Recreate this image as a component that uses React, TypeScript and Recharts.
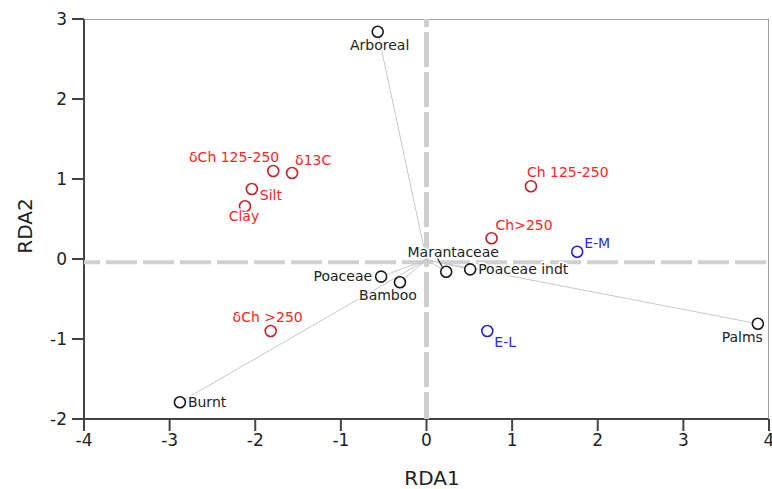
import { ScatterChart, Scatter, XAxis, YAxis } from 'recharts'

// RDA biplot: taxa (black), environmental variables (red), samples (blue)
const TAXA = ['Arboreal', 'Marantaceae', 'Poaceae indt', 'Poaceae', 'Bamboo', 'Palms', 'Burnt']
const TAXA_X = [-0.57, 0.23, 0.51, -0.53, -0.31, 3.87, -2.88]
const TAXA_Y = [2.84, -0.16, -0.13, -0.22, -0.29, -0.81, -1.79]

const ENV = ['δCh 125-250', 'δ13C', 'Silt', 'Clay', 'δCh >250', 'Ch 125-250', 'Ch>250']
const ENV_X = [-1.79, -1.57, -2.04, -2.12, -1.82, 1.22, 0.76]
const ENV_Y = [1.1, 1.075, 0.875, 0.66, -0.9, 0.91, 0.26]

const SAMPLES = ['E-M', 'E-L']
const SAMPLES_X = [1.76, 0.71]
const SAMPLES_Y = [0.09, -0.9]

const X_TICKS = [-4, -3, -2, -1, 0, 1, 2, 3, 4]
const Y_TICKS = [-2, -1, 0, 1, 2, 3]

const ORIGIN = { x: 0, y: -0.01 }
const ZERO_LINE_Y = -0.04

// label placement, px relative to the marker
const LABEL_POS: Record<string, { dx: number; dy: number; anchor: 'start' | 'middle' | 'end'; leader?: boolean }> = {
  Arboreal: { dx: 2, dy: 18, anchor: 'middle' },
  Marantaceae: { dx: 7, dy: -15, anchor: 'middle', leader: true },
  'Poaceae indt': { dx: 8, dy: 5, anchor: 'start' },
  Poaceae: { dx: -9, dy: 4, anchor: 'end' },
  Bamboo: { dx: -12, dy: 18, anchor: 'middle' },
  Palms: { dx: 5, dy: 18, anchor: 'end' },
  Burnt: { dx: 8, dy: 5, anchor: 'start' },
  'δCh 125-250': { dx: 6, dy: -9, anchor: 'end' },
  'δ13C': { dx: 3, dy: -8, anchor: 'start' },
  Silt: { dx: 8, dy: 11, anchor: 'start' },
  Clay: { dx: -1, dy: 15, anchor: 'middle' },
  'δCh >250': { dx: -3, dy: -9, anchor: 'middle' },
  'Ch 125-250': { dx: -4, dy: -9, anchor: 'start' },
  'Ch>250': { dx: 4, dy: -8, anchor: 'start' },
  'E-M': { dx: 7, dy: -4, anchor: 'start' },
  'E-L': { dx: 7, dy: 16, anchor: 'start' },
}

const FONT = '"DejaVu Sans", Verdana, sans-serif'
const AXIS_COLOR = '#444'

const toPoints = (names: string[], xs: number[], ys: number[]) =>
  names.map((name, i) => ({ name, x: xs[i], y: ys[i] }))

const taxa = toPoints(TAXA, TAXA_X, TAXA_Y)
const env = toPoints(ENV, ENV_X, ENV_Y)
const samples = toPoints(SAMPLES, SAMPLES_X, SAMPLES_Y)

function makeMarker(circleColor: string, textColor: string) {
  return (props: any) => {
    const { cx, cy, payload } = props
    if (cx == null || cy == null) return null
    const pos = LABEL_POS[payload.name] ?? { dx: 8, dy: 5, anchor: 'start' }
    return (
      <g>
        {pos.leader && (
          <line x1={cx - 9} y1={cy - 14} x2={cx - 4} y2={cy - 5} stroke="#222" strokeWidth={1.2} />
        )}
        <circle cx={cx} cy={cy} r={5.5} fill="#fff" stroke={circleColor} strokeWidth={1.6} />
        <text
          x={cx + pos.dx}
          y={cy + pos.dy}
          textAnchor={pos.anchor}
          fontSize={14}
          fontFamily={FONT}
          fill={textColor}
          stroke="#fff"
          strokeWidth={3}
          paintOrder="stroke"
        >
          {payload.name}
        </text>
      </g>
    )
  }
}

const noDot = () => <g />

export default function App() {
  return (
    <div style={{ position: 'absolute', left: 0, top: 0, background: '#fff' }}>
      <ScatterChart width={772} height={489} margin={{ top: 19, right: 3, bottom: 0, left: 0 }}>
        <XAxis
          type="number"
          dataKey="x"
          domain={[-4, 4]}
          ticks={X_TICKS}
          interval={0}
          allowDataOverflow
          height={70}
          tickSize={12}
          tickMargin={3}
          axisLine={{ stroke: AXIS_COLOR, strokeWidth: 2 }}
          tickLine={{ stroke: AXIS_COLOR, strokeWidth: 2 }}
          tick={{ fontSize: 17, fill: '#222', fontFamily: FONT }}
          label={{
            content: () => (
              <text x={432} y={485} textAnchor="middle" fontSize={20} fontFamily={FONT} fill="#222">
                RDA1
              </text>
            ),
          }}
        />
        <YAxis
          type="number"
          dataKey="y"
          domain={[-2, 3]}
          ticks={Y_TICKS}
          interval={0}
          allowDataOverflow
          width={84}
          tickSize={12}
          tickMargin={5}
          axisLine={{ stroke: AXIS_COLOR, strokeWidth: 2 }}
          tickLine={{ stroke: AXIS_COLOR, strokeWidth: 2 }}
          tick={{ fontSize: 17, fill: '#222', fontFamily: FONT }}
          label={{
            content: () => (
              <text
                x={25}
                y={226}
                transform="rotate(-90 25 226)"
                textAnchor="middle"
                dominantBaseline="central"
                fontSize={20}
                fontFamily={FONT}
                fill="#222"
              >
                RDA2
              </text>
            ),
          }}
        />

        {/* frame: top and right border */}
        <Scatter
          data={[{ x: -4, y: 3 }, { x: 4, y: 3 }, { x: 4, y: -2 }]}
          line={{ stroke: '#808080', strokeWidth: 1.5 }}
          shape={noDot}
          isAnimationActive={false}
        />

        {/* dashed zero lines */}
        <Scatter
          data={[{ x: -4, y: ZERO_LINE_Y }, { x: 4, y: ZERO_LINE_Y }]}
          line={{ stroke: '#d0d0d0', strokeWidth: 4, strokeDasharray: '31 6', strokeDashoffset: 15 }}
          shape={noDot}
          isAnimationActive={false}
        />
        <Scatter
          data={[{ x: 0, y: 3 }, { x: 0, y: -2 }]}
          line={{ stroke: '#d0d0d0', strokeWidth: 5, strokeDasharray: '35 5', strokeDashoffset: 27 }}
          shape={noDot}
          isAnimationActive={false}
        />

        {/* taxa vectors from origin */}
        {taxa.map((p) => (
          <Scatter
            key={`vec-${p.name}`}
            data={[ORIGIN, { x: p.x, y: p.y }]}
            line={{ stroke: '#c8c8c8', strokeWidth: 1 }}
            shape={noDot}
            isAnimationActive={false}
          />
        ))}

        <Scatter data={taxa} shape={makeMarker('#1a1a1a', '#222')} isAnimationActive={false} />
        <Scatter data={env} shape={makeMarker('#c8202a', '#ff2424')} isAnimationActive={false} />
        <Scatter data={samples} shape={makeMarker('#2222dd', '#2a2ae8')} isAnimationActive={false} />
      </ScatterChart>
    </div>
  )
}
